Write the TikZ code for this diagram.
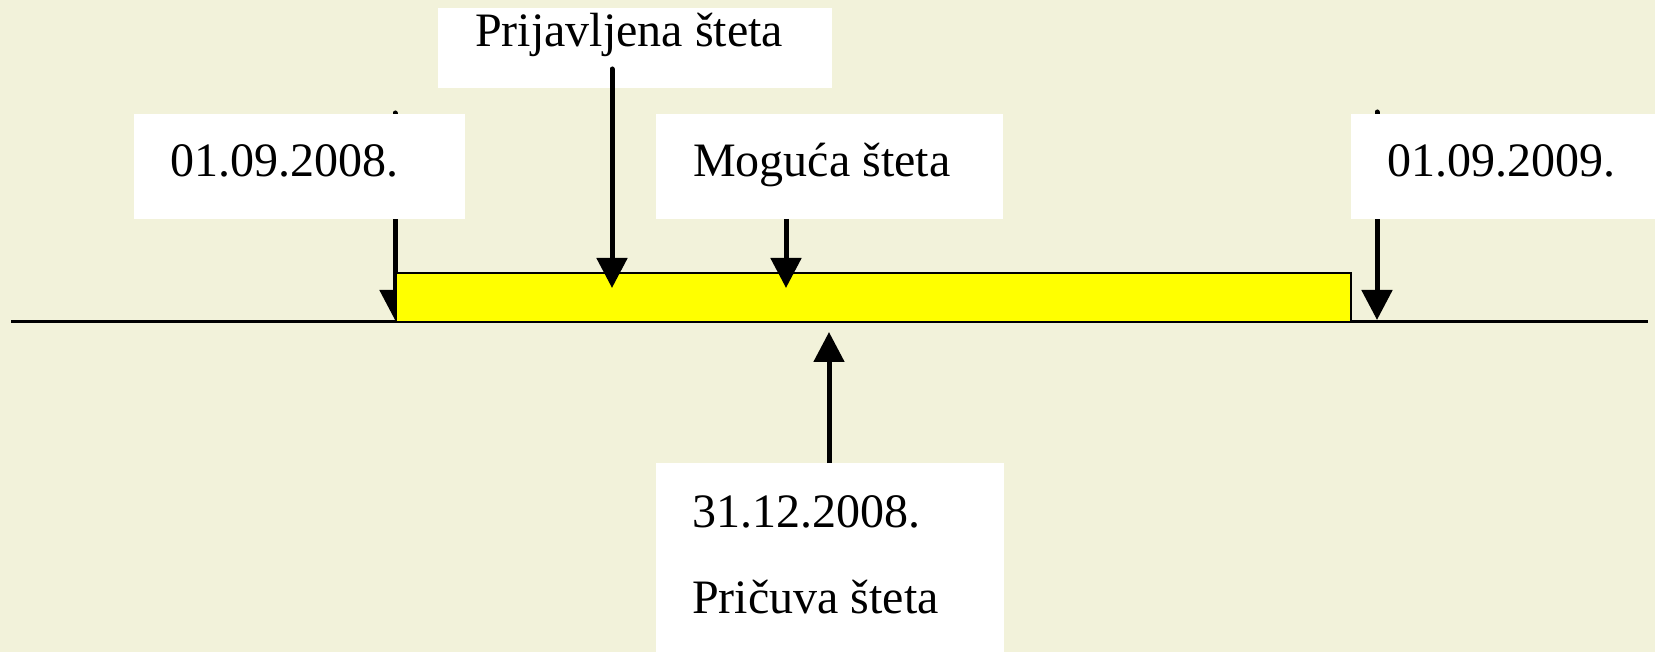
\documentclass[tikz,border=0pt]{standalone}
\usepackage{fontspec}
\setmainfont{Liberation Serif}
\usetikzlibrary{arrows.meta}
\definecolor{bgcol}{RGB}{242,242,218}
\definecolor{barcol}{RGB}{255,255,0}
\tikzset{
  wbox/.style={rectangle, fill=white, draw=none, inner sep=0pt, outer sep=0pt, anchor=north west},
  lbl/.style={anchor=base west, inner sep=0pt, font=\fontsize{48}{58}\selectfont},
  arr/.style={line width=5pt, line cap=round, -{Triangle[width=30pt,length=30pt]}},
  axisline/.style={line width=3pt},
  barstyle/.style={fill=barcol, draw=black, line width=2.5pt}
}
\begin{document}
\begin{tikzpicture}[x=1pt,y=-1pt]
\useasboundingbox (0,0) rectangle (1655,652);
\fill[bgcol] (0,0) rectangle (1655,652);
% axis
\coordinate (axL) at (11,322);
\coordinate (axR) at (1648,322);
\draw[axisline] (axL) -- (axR);
% arrows behind boxes
\coordinate (s2008) at (395,113);
\coordinate (t2008) at (395,320);
\coordinate (s2009) at (1377,112);
\coordinate (t2009) at (1377,320);
\draw[arr] (s2008) -- (t2008);
\draw[arr] (s2009) -- (t2009);
% yellow bar
\draw[barstyle] (396,273) rectangle (1351,322);
% white boxes
\node[wbox, minimum width=331pt, minimum height=105pt] (b2008) at (134,114) {};
\node[wbox, minimum width=394pt, minimum height=80pt] (bPrij) at (438,8) {};
\node[wbox, minimum width=347pt, minimum height=105pt] (bMog) at (656,114) {};
\node[wbox, minimum width=304pt, minimum height=105pt] (b2009) at (1351,114) {};
\node[wbox, minimum width=348pt, minimum height=189pt] (bPric) at (656,463) {};
% arrows on top
\coordinate (sPrij) at (612,69);
\coordinate (tPrij) at (612,288);
\coordinate (tMog) at (786,288);
\coordinate (tPric) at (829,332);
\draw[arr] (sPrij) -- (tPrij);
\draw[arr, line cap=butt] (bMog.south -| tMog) -- (tMog);
\draw[arr, line cap=butt] (bPric.north -| tPric) -- (tPric);
% labels
\node[lbl] (l2008) at (170,177) {01.09.2008.};
\node[lbl] (lPrij) at (475,47) {Prijavljena šteta};
\node[lbl] (lMog) at (693,177) {Moguća šteta};
\node[lbl] (l2009) at (1387,177) {01.09.2009.};
\node[lbl] (lDate) at (692,527) {31.12.2008.};
\node[lbl] (lPric) at (692,613) {Pričuva šteta};
\end{tikzpicture}
\end{document}
